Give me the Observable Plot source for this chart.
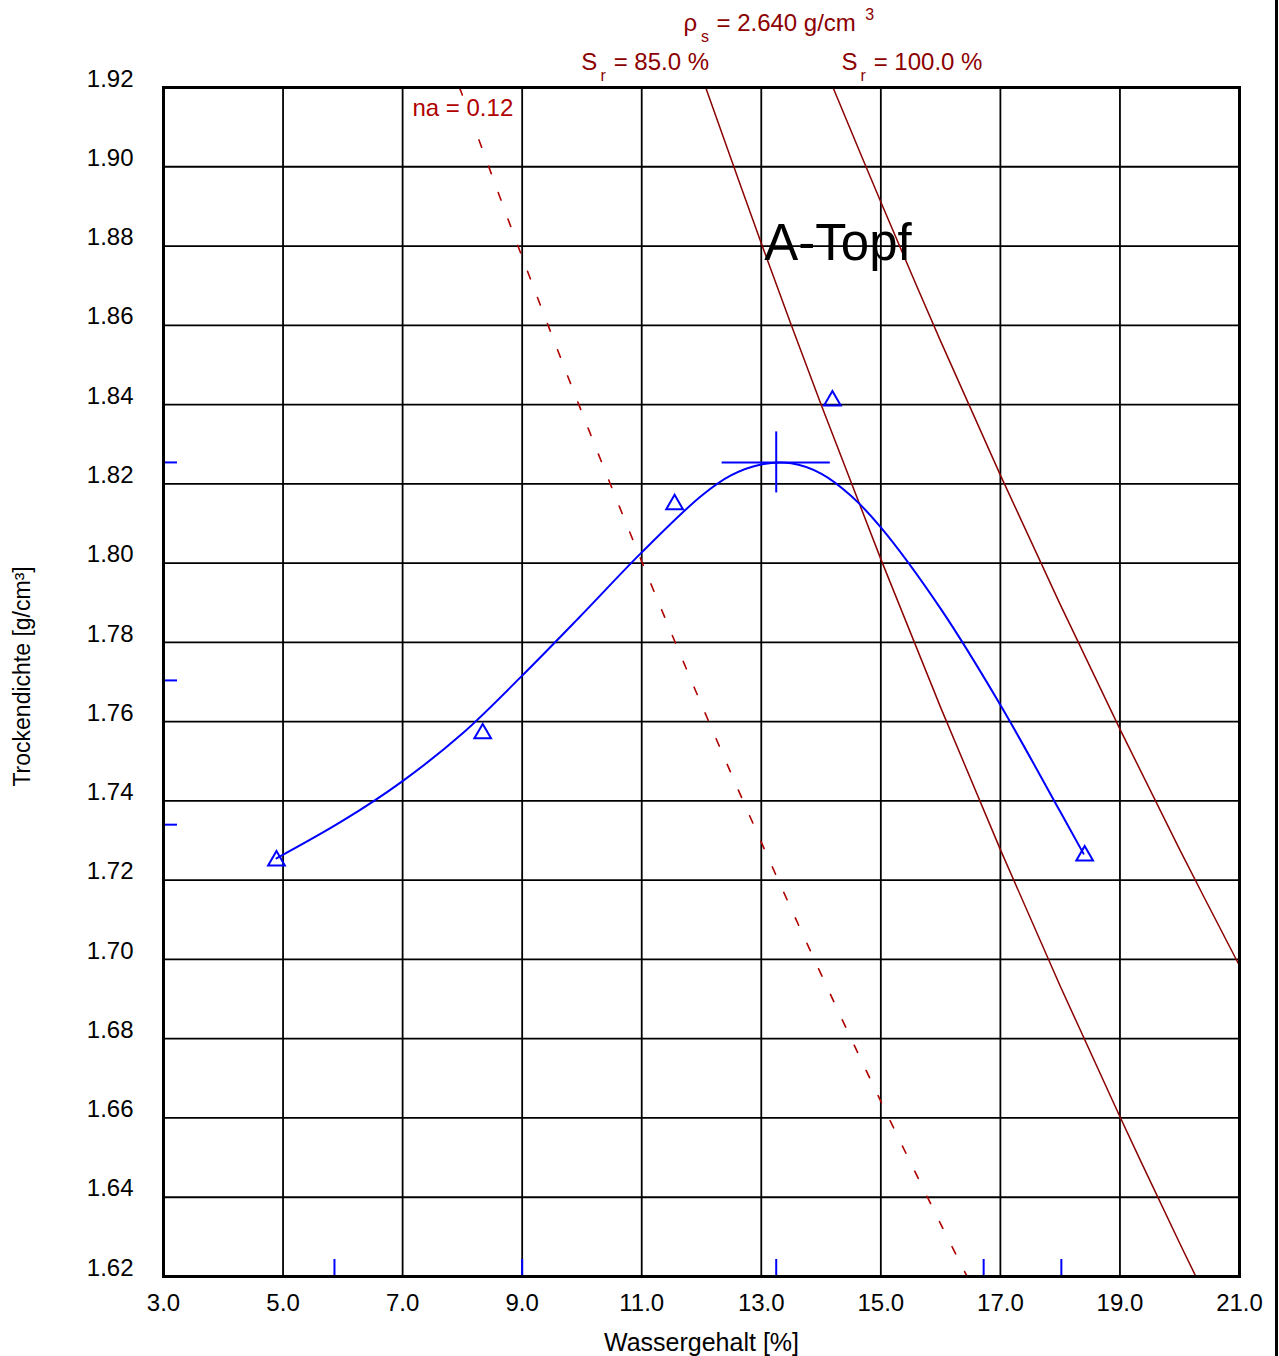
<!DOCTYPE html>
<html><head><meta charset="utf-8">
<script src="https://cdn.jsdelivr.net/npm/d3@7"></script>
<script src="https://cdn.jsdelivr.net/npm/@observablehq/plot@0.6"></script>
<style>
body{margin:0;background:#fff;}
#wrap{width:1275px;height:1356px;border-right:3px solid #000;overflow:hidden;background:#fff;}
svg{display:block;}
</style></head><body><div id="wrap"></div>
<script>
// Measured test points (water content %, dry density g/cm³)
const waterContent = [4.89, 8.34, 11.55, 14.19, 18.41];
const dryDensity   = [1.7249, 1.7570, 1.8148, 1.8410, 1.7262];

// Fitted Proctor curve
const curveW   = [4.89, 6.00, 7.00, 8.00, 9.00, 10.00, 11.00, 12.00, 12.50, 13.00, 13.50, 14.00, 14.50, 15.00, 16.00, 17.00, 18.00, 18.39];
const curveRho = [1.7255, 1.7350, 1.7450, 1.7570, 1.7716, 1.7870, 1.8027, 1.8170, 1.8222, 1.8249, 1.8252, 1.8226, 1.8170, 1.8090, 1.7885, 1.7642, 1.7373, 1.7267];

// Saturation lines Sr = 85 % and Sr = 100 %, air-void line na = 0.12
const sr85W    = [12.07, 13, 14, 15, 16, 17, 18, 19, 20, 20.27];
const sr85Rho  = [1.9200, 1.8807, 1.8400, 1.8010, 1.7636, 1.7277, 1.6933, 1.6603, 1.6284, 1.6200];
const sr100W   = [14.20, 15, 16, 17, 18, 19, 20, 21];
const sr100Rho = [1.9200, 1.8911, 1.8560, 1.8222, 1.7896, 1.7581, 1.7277, 1.6984];
const naW      = [7.95, 8, 9, 10, 11, 12, 13, 14, 15, 16, 16.44];
const naRho    = [1.9200, 1.9181, 1.8772, 1.8380, 1.8004, 1.7643, 1.7296, 1.6963, 1.6642, 1.6333, 1.6201];

// Optimum (Proctor maximum)
const optW = 13.25, optRho = 1.8254;
const crossHalfW = 0.905, crossHalfH = 0.0077;

// Marker ticks on the axes
const xMarkerTicks = [5.86, 9.00, 13.25, 16.72, 18.02];
const yMarkerTicks = [1.8254, 1.7704, 1.7340];

// Axis ticks
const xTicks = [3, 5, 7, 9, 11, 13, 15, 17, 19, 21];
const yTicks = [1.62, 1.64, 1.66, 1.68, 1.70, 1.72, 1.74, 1.76, 1.78, 1.80, 1.82, 1.84, 1.86, 1.88, 1.90, 1.92];

const pts = waterContent.map((w, i) => ({w, rho: dryDensity[i]}));
const curve = curveW.map((w, i) => ({w, rho: curveRho[i]}));
const sr85 = sr85W.map((w, i) => ({w, rho: sr85Rho[i]}));
const sr100 = sr100W.map((w, i) => ({w, rho: sr100Rho[i]}));
const na = naW.map((w, i) => ({w, rho: naRho[i]}));

const DARKRED = "#8b0000";
const RED = "#b00000";
const BLUE = "#0000ff";
const FONT = "'Liberation Sans', Arial, Helvetica, sans-serif";

const W = 1275, H = 1356, ML = 163, MR = 36, MT = 87, MB = 80;
const frameW = W - ML - MR, frameH = H - MT - MB;

function lbl(t, x, dy, size, fill, extra = {}) {
  return Plot.text([t], {x: [x], frameAnchor: "top", dy, text: d => d, fontSize: size, fill,
    textAnchor: "start", lineAnchor: "middle", ...extra});
}

const chart = Plot.plot({
  width: W, height: H,
  marginLeft: ML, marginRight: MR, marginTop: MT, marginBottom: MB,
  style: {fontFamily: FONT, fontSize: "24px", background: "#fff", color: "#000"},
  x: {domain: [3, 21], axis: null},
  y: {domain: [1.62, 1.92], axis: null},
  marks: [
    Plot.gridX(xTicks, {stroke: "#000", strokeOpacity: 1, strokeWidth: 1.8}),
    Plot.gridY(yTicks, {stroke: "#000", strokeOpacity: 1, strokeWidth: 1.8}),
    Plot.line(sr85, {x: "w", y: "rho", stroke: DARKRED, strokeWidth: 1.5, curve: "catmull-rom"}),
    Plot.line(sr100, {x: "w", y: "rho", stroke: DARKRED, strokeWidth: 1.5, curve: "catmull-rom"}),
    Plot.line(na, {x: "w", y: "rho", stroke: RED, strokeWidth: 1.6, strokeDasharray: "8,20", curve: "catmull-rom"}),
    Plot.line(curve, {x: "w", y: "rho", stroke: BLUE, strokeWidth: 2, curve: "catmull-rom"}),
    Plot.dot(pts, {x: "w", y: "rho", symbol: "triangle", r: 6.2, stroke: BLUE, strokeWidth: 2, fill: "none"}),
    Plot.ruleY([optRho], {y: d => d, x1: () => optW - crossHalfW, x2: () => optW + crossHalfW, stroke: BLUE, strokeWidth: 2}),
    Plot.ruleX([optW], {x: d => d, y1: () => optRho - crossHalfH, y2: () => optRho + crossHalfH, stroke: BLUE, strokeWidth: 2}),
    Plot.tickX(xMarkerTicks, {x: d => d, stroke: BLUE, strokeWidth: 2, insetTop: frameH - 17}),
    Plot.tickY(yMarkerTicks, {y: d => d, stroke: BLUE, strokeWidth: 2, insetRight: frameW - 14}),
    Plot.frame({stroke: "#000", strokeWidth: 3}),
    Plot.axisY(yTicks, {anchor: "left", tickSize: 0, tickPadding: 30, dy: -8.5, tickFormat: d => d.toFixed(2), fontSize: 24, label: null}),
    Plot.axisX(xTicks, {anchor: "bottom", tickSize: 0, tickPadding: 17, tickFormat: d => d.toFixed(1), fontSize: 24, label: null}),
    Plot.text(["Wassergehalt [%]"], {x: [12], frameAnchor: "bottom", dy: 66, text: d => d, fontSize: 25, lineAnchor: "middle", textAnchor: "middle"}),
    Plot.text(["Trockendichte [g/cm³]"], {y: [1.7714], frameAnchor: "left", dx: -141, rotate: -90, text: d => d, fontSize: 23, lineAnchor: "middle", textAnchor: "middle"}),
    // saturation labels
    lbl("ρ", 11.70, -64.5, 24, DARKRED),
    lbl("s", 11.99, -51, 16, DARKRED),
    lbl("= 2.640 g/cm", 12.25, -64.5, 24, DARKRED),
    lbl("3", 14.74, -72.5, 16, DARKRED),
    lbl("S", 9.99, -25.5, 24, DARKRED),
    lbl("r", 10.31, -12, 16, DARKRED),
    lbl("= 85.0 %", 10.53, -25.5, 24, DARKRED),
    lbl("S", 14.34, -25.5, 24, DARKRED),
    lbl("r", 14.66, -12, 16, DARKRED),
    lbl("= 100.0 %", 14.88, -25.5, 24, DARKRED),
    lbl("na = 0.12", 7.165, 21, 24, RED, {stroke: "#fff", strokeWidth: 12}),
    Plot.text(["A-Topf"], {x: [13.05], y: [1.8806], text: d => d, fontSize: 51, textAnchor: "start", lineAnchor: "middle", fill: "#000"})
  ]
});
document.getElementById("wrap").appendChild(chart);
</script>
</body></html>
